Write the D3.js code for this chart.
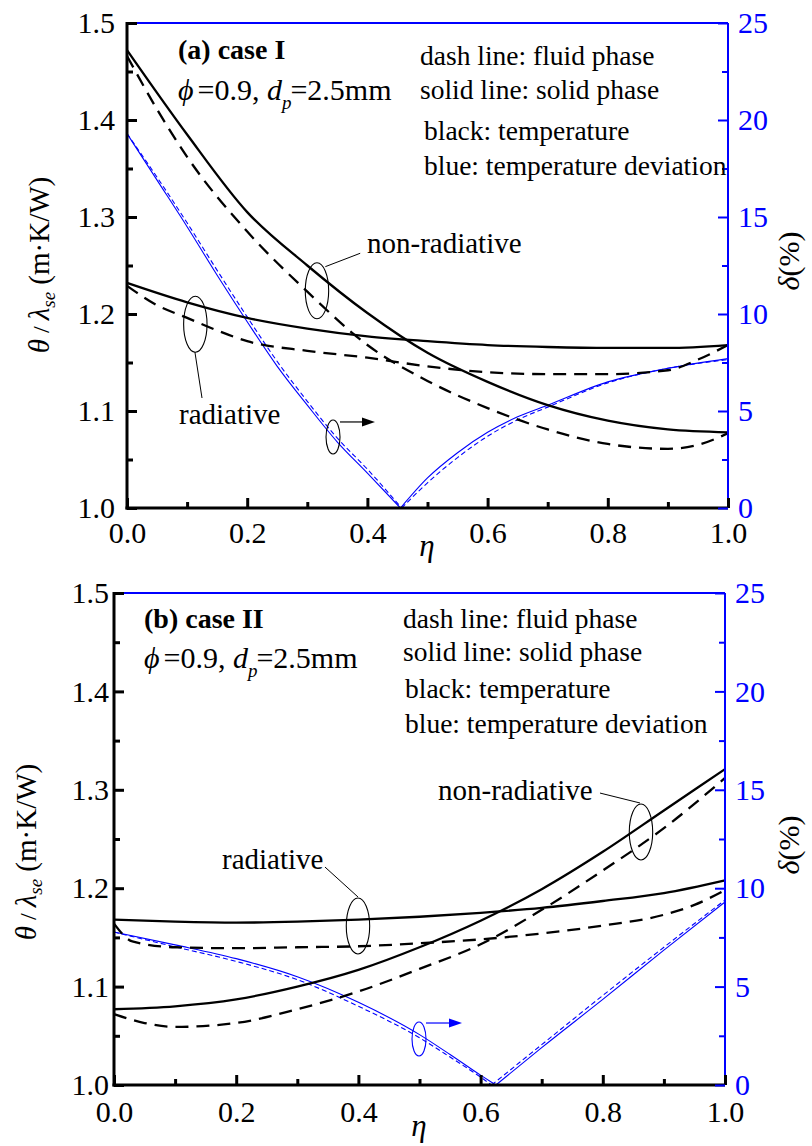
<!DOCTYPE html>
<html>
<head>
<meta charset="utf-8">
<script src="https://cdn.jsdelivr.net/npm/d3@7"></script>
<style>
  body { margin: 0; background: #fff; }
  svg { display: block; }
</style>
</head>
<body>
<svg id="chart" width="812" height="1146"></svg>
<script>
// ---------------- DATA ----------------
const xTicks = [0.0, 0.2, 0.4, 0.6, 0.8, 1.0];
const xMinor = [0.1, 0.3, 0.5, 0.7, 0.9];
const yTicks = [1.0, 1.1, 1.2, 1.3, 1.4, 1.5];
const yMinor = [1.05, 1.15, 1.25, 1.35, 1.45];
const dTicks = [0, 5, 10, 15, 20, 25];
const dMinor = [2.5, 7.5, 12.5, 17.5, 22.5];

const legendLines = ["dash line: fluid phase", "solid line: solid phase", "black: temperature", "blue: temperature deviation"];

// Panel (a) case I : [eta, theta/lambda_se]
const a_nonRadSolid = [[0,1.472],[0.1,1.385],[0.2,1.305],[0.3,1.250],[0.4,1.201],[0.5,1.160],[0.6,1.130],[0.7,1.106],[0.8,1.090],[0.9,1.081],[1.0,1.078]];
const a_nonRadFluid = [[0,1.466],[0.05,1.411],[0.1,1.362],[0.2,1.285],[0.3,1.223],[0.4,1.168],[0.5,1.131],[0.6,1.103],[0.7,1.081],[0.8,1.066],[0.9,1.061],[0.95,1.065],[1.0,1.077]];
const a_radSolid = [[0,1.232],[0.1,1.212],[0.2,1.196],[0.3,1.185],[0.4,1.177],[0.5,1.172],[0.6,1.168],[0.7,1.166],[0.8,1.165],[0.9,1.165],[1.0,1.168]];
const a_radFluid = [[0,1.229],[0.05,1.209],[0.1,1.196],[0.15,1.183],[0.2,1.172],[0.3,1.162],[0.4,1.155],[0.5,1.146],[0.6,1.140],[0.7,1.138],[0.8,1.138],[0.9,1.142],[0.95,1.153],[1.0,1.168]];
// [eta, delta %]
const a_devSolid = [[0,19.3],[0.05,16.9],[0.1,14.5],[0.15,12.0],[0.2,9.6],[0.25,7.3],[0.3,5.3],[0.35,3.4],[0.4,1.8],[0.455,0],[0.5,1.55],[0.55,2.85],[0.6,3.9],[0.65,4.7],[0.7,5.3],[0.8,6.5],[0.9,7.2],[1.0,7.7]];
const a_devFluid = [[0,19.3],[0.05,17.05],[0.1,14.7],[0.15,12.25],[0.2,9.85],[0.25,7.55],[0.3,5.5],[0.35,3.6],[0.4,2.0],[0.457,0],[0.5,1.3],[0.55,2.6],[0.6,3.7],[0.65,4.55],[0.7,5.2],[0.8,6.45],[0.9,7.2],[1.0,7.65]];

// Panel (b) case II
const b_nonRadSolid = [[0,1.077],[0.1,1.080],[0.2,1.087],[0.3,1.100],[0.4,1.117],[0.5,1.140],[0.6,1.167],[0.7,1.199],[0.8,1.237],[0.9,1.279],[1.0,1.321]];
const b_nonRadFluid = [[0,1.072],[0.05,1.063],[0.1,1.059],[0.2,1.063],[0.3,1.077],[0.4,1.095],[0.5,1.118],[0.6,1.143],[0.7,1.178],[0.8,1.218],[0.9,1.261],[1.0,1.312]];
const b_radSolid = [[0,1.168],[0.1,1.166],[0.2,1.165],[0.3,1.166],[0.4,1.168],[0.5,1.171],[0.6,1.175],[0.7,1.180],[0.8,1.187],[0.9,1.195],[1.0,1.208]];
const b_radFluid = [[0,1.164],[0.03,1.146],[0.1,1.140],[0.2,1.139],[0.3,1.140],[0.4,1.141],[0.5,1.144],[0.6,1.148],[0.7,1.154],[0.8,1.162],[0.9,1.173],[0.95,1.183],[1.0,1.198]];
const b_devSolid = [[0,7.77],[0.1,7.12],[0.2,6.42],[0.3,5.5],[0.4,4.2],[0.5,2.56],[0.55,1.55],[0.6,0.5],[0.625,0],[0.7,1.9],[0.8,4.35],[0.9,6.85],[1.0,9.3]];
const b_devFluid = [[0,7.77],[0.1,7.02],[0.2,6.28],[0.3,5.35],[0.4,4.0],[0.5,2.4],[0.55,1.42],[0.6,0.4],[0.618,0],[0.7,2.05],[0.8,4.55],[0.9,7.0],[1.0,9.4]];

// ---------------- LAYOUT ----------------
const BLUE = "#0000ff";
const FONT = "'Liberation Serif','Times New Roman',Times,serif";

const panels = [
  {
    left: 127, right: 728, top: 23, bottom: 508, yPad: 12, xPad: 14,
    title: "(a) case I", titlePos: [178, 59], paramPos: [178, 100],
    legendX: [420, 420, 424, 424], legendY: [65, 99, 140, 175],
    yTitle: [49, 265], dTitle: [799, 261], etaPos: [427, 556],
    series: { nrS: a_nonRadSolid, nrF: a_nonRadFluid, rS: a_radSolid, rF: a_radFluid, dS: a_devSolid, dF: a_devFluid },
    ann: {
      nrText: [0.3993, 1.2629], nrLead: [[0.330, 1.2488], [0.388, 1.2626]], nrEll: [0.3161, 1.2239],
      rText: [0.0865, 1.0866], rLead: [[0.113, 1.1608], [0.1248, 1.1134]], rEll: [0.1137, 1.1895],
      bEll: [0.3428, 1.0732], arrow: [[0.3544, 1.0887], [0.4126, 1.0887]], annColor: "#000"
    }
  },
  {
    left: 114, right: 725, top: 593, bottom: 1085, yPad: 5, xPad: 16,
    title: "(b) case II", titlePos: [144, 628], paramPos: [144, 668],
    legendX: [403, 403, 405, 405], legendY: [628, 661, 698, 733],
    yTitle: [36, 852], dTitle: [799, 845], etaPos: [419, 1136],
    series: { nrS: b_nonRadSolid, nrF: b_nonRadFluid, rS: b_radSolid, rF: b_radFluid, dS: b_devSolid, dF: b_devFluid },
    ann: {
      nrText: [0.5303, 1.2896], nrLead: [[0.7954, 1.2967], [0.8609, 1.2866]], nrEll: [0.8625, 1.2571],
      rText: [0.1768, 1.2195], rLead: [[0.3453, 1.2215], [0.3993, 1.1911]], rEll: [0.3993, 1.1616],
      bEll: [0.4992, 1.0467], arrow: [[0.5106, 1.0630], [0.5696, 1.0630]], annColor: BLUE
    }
  }
];

const svg = d3.select("#chart");
svg.append("rect").attr("width", 812).attr("height", 1146).attr("fill", "#fff");

function styleAxis(sel, size, color, width) {
  sel.attr("font-family", FONT).attr("font-size", size).attr("color", color);
  sel.select(".domain").remove();
  sel.selectAll(".tick line").attr("stroke-width", width);
  sel.selectAll(".tick text").attr("fill", color).attr("font-family", FONT);
}

function drawPanel(P) {
  const x = d3.scaleLinear().domain([0, 1]).range([P.left, P.right]);
  const y = d3.scaleLinear().domain([1.0, 1.5]).range([P.bottom, P.top]);
  const yd = d3.scaleLinear().domain([0, 25]).range([P.bottom, P.top]);
  const g = svg.append("g");
  const S = P.series;

  const lineT = d3.line().x(d => x(d[0])).y(d => y(d[1])).curve(d3.curveMonotoneX);
  const lineD = d3.line().x(d => x(d[0])).y(d => yd(d[1])).curve(d3.curveMonotoneX);

  // deviation curves (blue), split at the V minimum
  [[S.dS, null], [S.dF, "5,3"]].forEach(([arr, dash]) => {
    const i = arr.findIndex(d => d[1] === 0);
    [arr.slice(0, i + 1), arr.slice(i)].forEach(seg => {
      g.append("path").attr("d", lineD(seg)).attr("fill", "none")
        .attr("stroke", BLUE).attr("stroke-width", 1.1)
        .attr("stroke-dasharray", dash);
    });
  });

  // temperature curves (black)
  [[S.nrS, null], [S.nrF, "13,8"], [S.rS, null], [S.rF, "13,8"]].forEach(([arr, dash]) => {
    g.append("path").attr("d", lineT(arr)).attr("fill", "none")
      .attr("stroke", "#000").attr("stroke-width", 2.3)
      .attr("stroke-dasharray", dash);
  });

  // frame
  g.append("line").attr("x1", P.left).attr("x2", P.right).attr("y1", P.top).attr("y2", P.top)
    .attr("stroke", BLUE).attr("stroke-width", 2);
  g.append("line").attr("x1", P.right).attr("x2", P.right).attr("y1", P.top).attr("y2", P.bottom)
    .attr("stroke", BLUE).attr("stroke-width", 2);
  g.append("line").attr("x1", P.left).attr("x2", P.left).attr("y1", P.top - 1).attr("y2", P.bottom + 1.5)
    .attr("stroke", "#000").attr("stroke-width", 3);
  g.append("line").attr("x1", P.left - 1.5).attr("x2", P.right).attr("y1", P.bottom).attr("y2", P.bottom)
    .attr("stroke", "#000").attr("stroke-width", 3);

  // left axis
  g.append("g").attr("transform", `translate(${P.left},0)`)
    .call(d3.axisLeft(y).tickValues(yMinor).tickSize(-6).tickFormat(""))
    .call(s => styleAxis(s, 30, "#000", 3));
  g.append("g").attr("transform", `translate(${P.left},0)`)
    .call(d3.axisLeft(y).tickValues(yTicks).tickSize(-10).tickPadding(P.yPad).tickFormat(d3.format(".1f")))
    .call(s => styleAxis(s, 30, "#000", 3));
  // bottom axis
  g.append("g").attr("transform", `translate(0,${P.bottom})`)
    .call(d3.axisBottom(x).tickValues(xMinor).tickSize(-6).tickFormat(""))
    .call(s => styleAxis(s, 30, "#000", 3));
  g.append("g").attr("transform", `translate(0,${P.bottom})`)
    .call(d3.axisBottom(x).tickValues(xTicks).tickSize(-10).tickPadding(P.xPad).tickFormat(d3.format(".1f")))
    .call(s => styleAxis(s, 30, "#000", 3));
  // right axis
  g.append("g").attr("transform", `translate(${P.right},0)`)
    .call(d3.axisRight(yd).tickValues(dMinor).tickSize(-6).tickFormat(""))
    .call(s => styleAxis(s, 30, BLUE, 2));
  g.append("g").attr("transform", `translate(${P.right},0)`)
    .call(d3.axisRight(yd).tickValues(dTicks).tickSize(-10).tickPadding(10).tickFormat(d3.format("d")))
    .call(s => styleAxis(s, 30, BLUE, 2));

  // axis titles
  const yt = g.append("text").attr("font-family", FONT).attr("font-size", 29)
    .attr("text-anchor", "middle")
    .attr("transform", `translate(${P.yTitle[0]},${P.yTitle[1]}) rotate(-90)`);
  yt.append("tspan").attr("font-style", "italic").text("θ");
  yt.append("tspan").attr("font-size", 24).text(" / ");
  yt.append("tspan").attr("font-style", "italic").text("λ");
  yt.append("tspan").attr("font-style", "italic").attr("font-size", 19).attr("dy", 6).text("se");
  yt.append("tspan").attr("dy", -6).text(" (m·K/W)");

  const dt = g.append("text").attr("font-family", FONT).attr("font-size", 30)
    .attr("text-anchor", "middle")
    .attr("transform", `translate(${P.dTitle[0]},${P.dTitle[1]}) rotate(-90)`);
  dt.append("tspan").attr("font-style", "italic").text("δ");
  dt.append("tspan").text("(%)");

  g.append("text").attr("font-family", FONT).attr("font-size", 31).attr("font-style", "italic")
    .attr("text-anchor", "middle").attr("x", P.etaPos[0]).attr("y", P.etaPos[1]).text("η");

  // panel title & parameters
  g.append("text").attr("font-family", FONT).attr("font-size", 28).attr("font-weight", "bold")
    .attr("x", P.titlePos[0]).attr("y", P.titlePos[1]).text(P.title);
  const pt = g.append("text").attr("font-family", FONT).attr("font-size", 30)
    .attr("x", P.paramPos[0]).attr("y", P.paramPos[1]);
  pt.append("tspan").attr("font-style", "italic").text("ϕ");
  pt.append("tspan").attr("dx", 4).text("=0.9, ");
  pt.append("tspan").attr("font-style", "italic").text("d");
  pt.append("tspan").attr("font-style", "italic").attr("font-size", 19).attr("dy", 9).text("p");
  pt.append("tspan").attr("dy", -9).attr("dx", -1).text("=2.5mm");

  // legend text
  legendLines.forEach((t, i) => {
    g.append("text").attr("font-family", FONT).attr("font-size", 27.5)
      .attr("x", P.legendX[i]).attr("y", P.legendY[i]).text(t);
  });

  // annotations
  const A = P.ann;
  const txt = (pos, s) => g.append("text").attr("font-family", FONT).attr("font-size", 29)
    .attr("x", x(pos[0])).attr("y", y(pos[1])).text(s);
  const lead = (pts, c) => g.append("line").attr("x1", x(pts[0][0])).attr("y1", y(pts[0][1]))
    .attr("x2", x(pts[1][0])).attr("y2", y(pts[1][1])).attr("stroke", c).attr("stroke-width", 1);
  const ell = (pos, rx, ry, c) => g.append("ellipse").attr("cx", x(pos[0])).attr("cy", y(pos[1]))
    .attr("rx", rx).attr("ry", ry).attr("fill", "none").attr("stroke", c).attr("stroke-width", 1.1);

  txt(A.nrText, "non-radiative");
  lead(A.nrLead, "#000");
  ell(A.nrEll, 11.7, 28, "#000");
  txt(A.rText, "radiative");
  lead(A.rLead, "#000");
  ell(A.rEll, 11.7, 28, "#000");
  ell(A.bEll, 7, 17, A.annColor);
  const ax0 = x(A.arrow[0][0]), ax1 = x(A.arrow[1][0]), ay = y(A.arrow[0][1]);
  g.append("line").attr("x1", ax0).attr("x2", ax1 - 10).attr("y1", ay).attr("y2", ay)
    .attr("stroke", A.annColor).attr("stroke-width", 1.2);
  g.append("path").attr("d", `M${ax1},${ay} L${ax1 - 13},${ay - 4.5} L${ax1 - 13},${ay + 4.5} Z`)
    .attr("fill", A.annColor);
}

panels.forEach(drawPanel);
</script>
</body>
</html>
